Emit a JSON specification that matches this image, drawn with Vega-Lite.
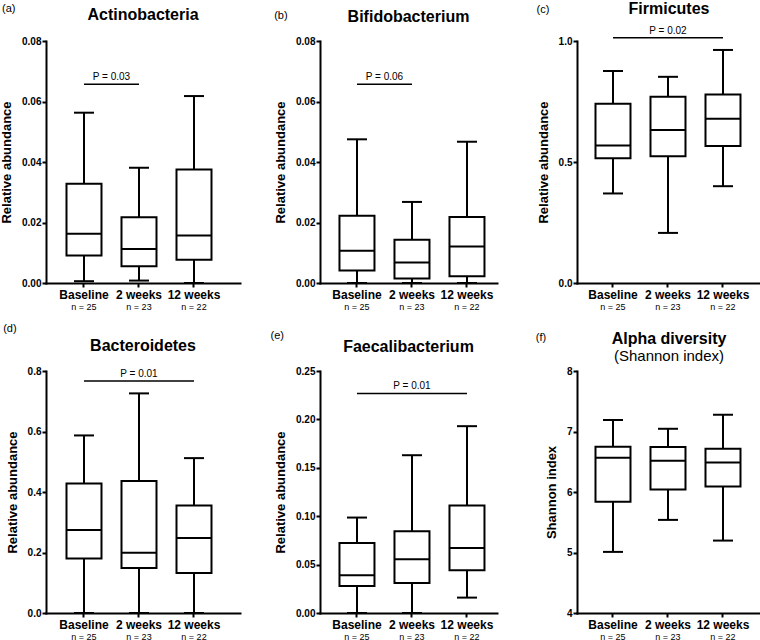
{
  "$schema": "https://vega.github.io/schema/vega-lite/v6.json",
  "background": "white",
  "padding": {"left": 0, "top": 0, "right": 0, "bottom": 0},
  "datasets": {
    "boxes": [
      {"panel": "a", "group": "Baseline", "min": 0.0006, "q1": 0.0091, "median": 0.0163, "q3": 0.0328, "max": 0.0563, "n": 25},
      {"panel": "a", "group": "2 weeks", "min": 0.0008, "q1": 0.0055, "median": 0.0112, "q3": 0.0217, "max": 0.0381, "n": 23},
      {"panel": "a", "group": "12 weeks", "min": 0, "q1": 0.0077, "median": 0.0157, "q3": 0.0375, "max": 0.0618, "n": 22},
      {"panel": "b", "group": "Baseline", "min": 0, "q1": 0.0041, "median": 0.0107, "q3": 0.0222, "max": 0.0475, "n": 25},
      {"panel": "b", "group": "2 weeks", "min": 0, "q1": 0.0015, "median": 0.0068, "q3": 0.0143, "max": 0.0268, "n": 23},
      {"panel": "b", "group": "12 weeks", "min": 0, "q1": 0.0022, "median": 0.0121, "q3": 0.0218, "max": 0.0467, "n": 22},
      {"panel": "c", "group": "Baseline", "min": 0.37, "q1": 0.515, "median": 0.568, "q3": 0.741, "max": 0.876, "n": 25},
      {"panel": "c", "group": "2 weeks", "min": 0.207, "q1": 0.524, "median": 0.632, "q3": 0.77, "max": 0.852, "n": 23},
      {"panel": "c", "group": "12 weeks", "min": 0.4, "q1": 0.566, "median": 0.679, "q3": 0.779, "max": 0.963, "n": 22},
      {"panel": "d", "group": "Baseline", "min": 0, "q1": 0.18, "median": 0.274, "q3": 0.428, "max": 0.587, "n": 25},
      {"panel": "d", "group": "2 weeks", "min": 0, "q1": 0.149, "median": 0.199, "q3": 0.436, "max": 0.726, "n": 23},
      {"panel": "d", "group": "12 weeks", "min": 0, "q1": 0.132, "median": 0.248, "q3": 0.355, "max": 0.512, "n": 22},
      {"panel": "e", "group": "Baseline", "min": 0, "q1": 0.028, "median": 0.039, "q3": 0.0724, "max": 0.0986, "n": 25},
      {"panel": "e", "group": "2 weeks", "min": 0, "q1": 0.031, "median": 0.0555, "q3": 0.0845, "max": 0.163, "n": 23},
      {"panel": "e", "group": "12 weeks", "min": 0.0159, "q1": 0.0441, "median": 0.0672, "q3": 0.111, "max": 0.193, "n": 22},
      {"panel": "f", "group": "Baseline", "min": 5.01, "q1": 5.837, "median": 6.566, "q3": 6.75, "max": 7.19, "n": 25},
      {"panel": "f", "group": "2 weeks", "min": 5.539, "q1": 6.041, "median": 6.516, "q3": 6.742, "max": 7.045, "n": 23},
      {"panel": "f", "group": "12 weeks", "min": 5.197, "q1": 6.091, "median": 6.488, "q3": 6.715, "max": 7.277, "n": 22}
    ],
    "pvals": [
      {"panel": "a", "g1": "Baseline", "g2": "2 weeks", "mid": "Baseline", "y": 0.0657, "label": "P = 0.03"},
      {"panel": "b", "g1": "Baseline", "g2": "2 weeks", "mid": "Baseline", "y": 0.0657, "label": "P = 0.06"},
      {"panel": "c", "g1": "Baseline", "g2": "12 weeks", "mid": "2 weeks", "y": 1.0137, "label": "P = 0.02"},
      {"panel": "d", "g1": "Baseline", "g2": "12 weeks", "mid": "2 weeks", "y": 0.767, "label": "P = 0.01"},
      {"panel": "e", "g1": "Baseline", "g2": "12 weeks", "mid": "2 weeks", "y": 0.2268, "label": "P = 0.01"}
    ]
  },
  "columns": 3,
  "bounds": "flush",
  "spacing": {"row": 88, "column": 80},
  "concat": [
    {
      "width": 194, "height": 242,
      "title": {"text": "Actinobacteria", "offset": -21},
      "resolve": {"axis": {"x": "independent", "y": "independent"}},
      "layer": [
        {"data": {"name": "boxes"}, "transform": [{"filter": "datum.panel == 'a'"}],
         "mark": {"type": "rule", "strokeWidth": 2, "color": "black"},
         "encoding": {
           "x": {"field": "group", "type": "nominal", "scale": {"domain": ["Baseline", "2 weeks", "12 weeks"], "paddingInner": 0, "paddingOuter": 0.2636, "align": 0.362}, "axis": {"title": null, "orient": "bottom"}},
           "y": {"field": "min", "type": "quantitative", "scale": {"domain": [0, 0.08], "nice": false}, "axis": {"title": "Relative abundance", "values": [0, 0.02, 0.04, 0.06, 0.08], "format": ".2f", "orient": "left"}},
           "y2": {"field": "max"}
         }},
        {"data": {"name": "boxes"}, "transform": [{"filter": "datum.panel == 'a'"}],
         "mark": {"type": "bar", "width": 35, "fill": "white", "stroke": "black", "strokeWidth": 2},
         "encoding": {
           "x": {"field": "group", "type": "nominal", "axis": null},
           "y": {"field": "q1", "type": "quantitative", "axis": {"orient": "left", "title": "(a)", "domain": false, "ticks": false, "labels": false, "grid": false, "titleAngle": 0, "titleX": -44.5, "titleY": -33, "titleAlign": "left", "titleBaseline": "middle", "titleFontWeight": "normal", "titleFontSize": 11}},
           "y2": {"field": "q3"}
         }},
        {"data": {"name": "boxes"}, "transform": [{"filter": "datum.panel == 'a'"}],
         "mark": {"type": "tick", "size": 36, "thickness": 2, "color": "black", "opacity": 1},
         "encoding": {"x": {"field": "group", "type": "nominal", "axis": null}, "y": {"field": "median", "type": "quantitative", "axis": null}}},
        {"data": {"name": "boxes"}, "transform": [{"filter": "datum.panel == 'a'"}],
         "mark": {"type": "tick", "size": 20, "thickness": 2, "color": "black", "opacity": 1},
         "encoding": {"x": {"field": "group", "type": "nominal", "axis": null}, "y": {"field": "min", "type": "quantitative", "axis": null}}},
        {"data": {"name": "boxes"}, "transform": [{"filter": "datum.panel == 'a'"}],
         "mark": {"type": "tick", "size": 20, "thickness": 2, "color": "black", "opacity": 1},
         "encoding": {"x": {"field": "group", "type": "nominal", "axis": {"orient": "bottom", "title": null, "domain": false, "ticks": false, "tickSize": 0, "labelPadding": 19, "labelFontSize": 9, "labelFontWeight": "normal", "labelExpr": "datum.label == 'Baseline' ? 'n = 25' : datum.label == '2 weeks' ? 'n = 23' : 'n = 22'"}}, "y": {"field": "max", "type": "quantitative", "axis": null}}},
        {"data": {"name": "pvals"}, "transform": [{"filter": "datum.panel == 'a'"}],
         "mark": {"type": "rule", "strokeWidth": 1.5, "color": "black"},
         "encoding": {"x": {"field": "g1", "type": "nominal", "axis": null}, "x2": {"field": "g2"}, "y": {"field": "y", "type": "quantitative", "axis": null}}},
        {"data": {"name": "pvals"}, "transform": [{"filter": "datum.panel == 'a'"}],
         "mark": {"type": "text", "fontSize": 10, "baseline": "alphabetic", "dy": -4, "color": "black"},
         "encoding": {"x": {"field": "mid", "type": "nominal", "bandPosition": 1, "axis": null}, "y": {"field": "y", "type": "quantitative", "axis": null}, "text": {"field": "label"}}}
      ]
    },
    {
      "width": 177, "height": 242,
      "title": {"text": "Bifidobacterium", "offset": -15.6},
      "resolve": {"axis": {"x": "independent", "y": "independent"}},
      "layer": [
        {"data": {"name": "boxes"}, "transform": [{"filter": "datum.panel == 'b'"}],
         "mark": {"type": "rule", "strokeWidth": 2, "color": "black"},
         "encoding": {
           "x": {"field": "group", "type": "nominal", "scale": {"domain": ["Baseline", "2 weeks", "12 weeks"], "paddingInner": 0, "paddingOuter": 0.109, "align": 0.79}, "axis": {"title": null, "orient": "bottom"}},
           "y": {"field": "min", "type": "quantitative", "scale": {"domain": [0, 0.08], "nice": false}, "axis": {"title": "Relative abundance", "values": [0, 0.02, 0.04, 0.06, 0.08], "format": ".2f", "orient": "left"}},
           "y2": {"field": "max"}
         }},
        {"data": {"name": "boxes"}, "transform": [{"filter": "datum.panel == 'b'"}],
         "mark": {"type": "bar", "width": 35, "fill": "white", "stroke": "black", "strokeWidth": 2},
         "encoding": {
           "x": {"field": "group", "type": "nominal", "axis": null},
           "y": {"field": "q1", "type": "quantitative", "axis": {"orient": "left", "title": "(b)", "domain": false, "ticks": false, "labels": false, "grid": false, "titleAngle": 0, "titleX": -46.3, "titleY": -26, "titleAlign": "left", "titleBaseline": "middle", "titleFontWeight": "normal", "titleFontSize": 11}},
           "y2": {"field": "q3"}
         }},
        {"data": {"name": "boxes"}, "transform": [{"filter": "datum.panel == 'b'"}],
         "mark": {"type": "tick", "size": 36, "thickness": 2, "color": "black", "opacity": 1},
         "encoding": {"x": {"field": "group", "type": "nominal", "axis": null}, "y": {"field": "median", "type": "quantitative", "axis": null}}},
        {"data": {"name": "boxes"}, "transform": [{"filter": "datum.panel == 'b'"}],
         "mark": {"type": "tick", "size": 20, "thickness": 2, "color": "black", "opacity": 1},
         "encoding": {"x": {"field": "group", "type": "nominal", "axis": null}, "y": {"field": "min", "type": "quantitative", "axis": null}}},
        {"data": {"name": "boxes"}, "transform": [{"filter": "datum.panel == 'b'"}],
         "mark": {"type": "tick", "size": 20, "thickness": 2, "color": "black", "opacity": 1},
         "encoding": {"x": {"field": "group", "type": "nominal", "axis": {"orient": "bottom", "title": null, "domain": false, "ticks": false, "tickSize": 0, "labelPadding": 19, "labelFontSize": 9, "labelFontWeight": "normal", "labelExpr": "datum.label == 'Baseline' ? 'n = 25' : datum.label == '2 weeks' ? 'n = 23' : 'n = 22'"}}, "y": {"field": "max", "type": "quantitative", "axis": null}}},
        {"data": {"name": "pvals"}, "transform": [{"filter": "datum.panel == 'b'"}],
         "mark": {"type": "rule", "strokeWidth": 1.5, "color": "black"},
         "encoding": {"x": {"field": "g1", "type": "nominal", "axis": null}, "x2": {"field": "g2"}, "y": {"field": "y", "type": "quantitative", "axis": null}}},
        {"data": {"name": "pvals"}, "transform": [{"filter": "datum.panel == 'b'"}],
         "mark": {"type": "text", "fontSize": 10, "baseline": "alphabetic", "dy": -4, "color": "black"},
         "encoding": {"x": {"field": "mid", "type": "nominal", "bandPosition": 1, "axis": null}, "y": {"field": "y", "type": "quantitative", "axis": null}, "text": {"field": "label"}}}
      ]
    },
    {
      "width": 184, "height": 242,
      "title": {"text": "Firmicutes", "offset": -13.4},
      "resolve": {"axis": {"x": "independent", "y": "independent"}},
      "layer": [
        {"data": {"name": "boxes"}, "transform": [{"filter": "datum.panel == 'c'"}],
         "mark": {"type": "rule", "strokeWidth": 2, "color": "black"},
         "encoding": {
           "x": {"field": "group", "type": "nominal", "scale": {"domain": ["Baseline", "2 weeks", "12 weeks"], "paddingInner": 0, "paddingOuter": 0.1727, "align": 0.447}, "axis": {"title": null, "orient": "bottom"}},
           "y": {"field": "min", "type": "quantitative", "scale": {"domain": [0, 1], "nice": false}, "axis": {"title": "Relative abundance", "values": [0, 0.5, 1], "format": ".1f", "orient": "left"}},
           "y2": {"field": "max"}
         }},
        {"data": {"name": "boxes"}, "transform": [{"filter": "datum.panel == 'c'"}],
         "mark": {"type": "bar", "width": 35, "fill": "white", "stroke": "black", "strokeWidth": 2},
         "encoding": {
           "x": {"field": "group", "type": "nominal", "axis": null},
           "y": {"field": "q1", "type": "quantitative", "axis": {"orient": "left", "title": "(c)", "domain": false, "ticks": false, "labels": false, "grid": false, "titleAngle": 0, "titleX": -41, "titleY": -31.8, "titleAlign": "left", "titleBaseline": "middle", "titleFontWeight": "normal", "titleFontSize": 11}},
           "y2": {"field": "q3"}
         }},
        {"data": {"name": "boxes"}, "transform": [{"filter": "datum.panel == 'c'"}],
         "mark": {"type": "tick", "size": 36, "thickness": 2, "color": "black", "opacity": 1},
         "encoding": {"x": {"field": "group", "type": "nominal", "axis": null}, "y": {"field": "median", "type": "quantitative", "axis": null}}},
        {"data": {"name": "boxes"}, "transform": [{"filter": "datum.panel == 'c'"}],
         "mark": {"type": "tick", "size": 20, "thickness": 2, "color": "black", "opacity": 1},
         "encoding": {"x": {"field": "group", "type": "nominal", "axis": null}, "y": {"field": "min", "type": "quantitative", "axis": null}}},
        {"data": {"name": "boxes"}, "transform": [{"filter": "datum.panel == 'c'"}],
         "mark": {"type": "tick", "size": 20, "thickness": 2, "color": "black", "opacity": 1},
         "encoding": {"x": {"field": "group", "type": "nominal", "axis": {"orient": "bottom", "title": null, "domain": false, "ticks": false, "tickSize": 0, "labelPadding": 19, "labelFontSize": 9, "labelFontWeight": "normal", "labelExpr": "datum.label == 'Baseline' ? 'n = 25' : datum.label == '2 weeks' ? 'n = 23' : 'n = 22'"}}, "y": {"field": "max", "type": "quantitative", "axis": null}}},
        {"data": {"name": "pvals"}, "transform": [{"filter": "datum.panel == 'c'"}],
         "mark": {"type": "rule", "strokeWidth": 1.5, "color": "black"},
         "encoding": {"x": {"field": "g1", "type": "nominal", "axis": null}, "x2": {"field": "g2"}, "y": {"field": "y", "type": "quantitative", "axis": null}}},
        {"data": {"name": "pvals"}, "transform": [{"filter": "datum.panel == 'c'"}],
         "mark": {"type": "text", "fontSize": 10, "baseline": "alphabetic", "dy": -4, "color": "black"},
         "encoding": {"x": {"field": "mid", "type": "nominal", "axis": null}, "y": {"field": "y", "type": "quantitative", "axis": null}, "text": {"field": "label"}}}
      ]
    },
    {
      "width": 194, "height": 242,
      "title": {"text": "Bacteroidetes", "offset": -31.4},
      "resolve": {"axis": {"x": "independent", "y": "independent"}},
      "layer": [
        {"data": {"name": "boxes"}, "transform": [{"filter": "datum.panel == 'd'"}],
         "mark": {"type": "rule", "strokeWidth": 2, "color": "black"},
         "encoding": {
           "x": {"field": "group", "type": "nominal", "scale": {"domain": ["Baseline", "2 weeks", "12 weeks"], "paddingInner": 0, "paddingOuter": 0.2636, "align": 0.362}, "axis": {"title": null, "orient": "bottom"}},
           "y": {"field": "min", "type": "quantitative", "scale": {"domain": [0, 0.8], "nice": false}, "axis": {"title": "Relative abundance", "values": [0, 0.2, 0.4, 0.6, 0.8], "format": ".1f", "orient": "left"}},
           "y2": {"field": "max"}
         }},
        {"data": {"name": "boxes"}, "transform": [{"filter": "datum.panel == 'd'"}],
         "mark": {"type": "bar", "width": 35, "fill": "white", "stroke": "black", "strokeWidth": 2},
         "encoding": {
           "x": {"field": "group", "type": "nominal", "axis": null},
           "y": {"field": "q1", "type": "quantitative", "axis": {"orient": "left", "title": "(d)", "domain": false, "ticks": false, "labels": false, "grid": false, "titleAngle": 0, "titleX": -43.3, "titleY": -42.5, "titleAlign": "left", "titleBaseline": "middle", "titleFontWeight": "normal", "titleFontSize": 11}},
           "y2": {"field": "q3"}
         }},
        {"data": {"name": "boxes"}, "transform": [{"filter": "datum.panel == 'd'"}],
         "mark": {"type": "tick", "size": 36, "thickness": 2, "color": "black", "opacity": 1},
         "encoding": {"x": {"field": "group", "type": "nominal", "axis": null}, "y": {"field": "median", "type": "quantitative", "axis": null}}},
        {"data": {"name": "boxes"}, "transform": [{"filter": "datum.panel == 'd'"}],
         "mark": {"type": "tick", "size": 20, "thickness": 2, "color": "black", "opacity": 1},
         "encoding": {"x": {"field": "group", "type": "nominal", "axis": null}, "y": {"field": "min", "type": "quantitative", "axis": null}}},
        {"data": {"name": "boxes"}, "transform": [{"filter": "datum.panel == 'd'"}],
         "mark": {"type": "tick", "size": 20, "thickness": 2, "color": "black", "opacity": 1},
         "encoding": {"x": {"field": "group", "type": "nominal", "axis": {"orient": "bottom", "title": null, "domain": false, "ticks": false, "tickSize": 0, "labelPadding": 19, "labelFontSize": 9, "labelFontWeight": "normal", "labelExpr": "datum.label == 'Baseline' ? 'n = 25' : datum.label == '2 weeks' ? 'n = 23' : 'n = 22'"}}, "y": {"field": "max", "type": "quantitative", "axis": null}}},
        {"data": {"name": "pvals"}, "transform": [{"filter": "datum.panel == 'd'"}],
         "mark": {"type": "rule", "strokeWidth": 1.5, "color": "black"},
         "encoding": {"x": {"field": "g1", "type": "nominal", "axis": null}, "x2": {"field": "g2"}, "y": {"field": "y", "type": "quantitative", "axis": null}}},
        {"data": {"name": "pvals"}, "transform": [{"filter": "datum.panel == 'd'"}],
         "mark": {"type": "text", "fontSize": 10, "baseline": "alphabetic", "dy": -4, "color": "black"},
         "encoding": {"x": {"field": "mid", "type": "nominal", "axis": null}, "y": {"field": "y", "type": "quantitative", "axis": null}, "text": {"field": "label"}}}
      ]
    },
    {
      "width": 177, "height": 242,
      "title": {"text": "Faecalibacterium", "offset": -25.6},
      "resolve": {"axis": {"x": "independent", "y": "independent"}},
      "layer": [
        {"data": {"name": "boxes"}, "transform": [{"filter": "datum.panel == 'e'"}],
         "mark": {"type": "rule", "strokeWidth": 2, "color": "black"},
         "encoding": {
           "x": {"field": "group", "type": "nominal", "scale": {"domain": ["Baseline", "2 weeks", "12 weeks"], "paddingInner": 0, "paddingOuter": 0.109, "align": 0.79}, "axis": {"title": null, "orient": "bottom"}},
           "y": {"field": "min", "type": "quantitative", "scale": {"domain": [0, 0.25], "nice": false}, "axis": {"title": "Relative abundance", "values": [0, 0.05, 0.1, 0.15, 0.2, 0.25], "format": ".2f", "orient": "left"}},
           "y2": {"field": "max"}
         }},
        {"data": {"name": "boxes"}, "transform": [{"filter": "datum.panel == 'e'"}],
         "mark": {"type": "bar", "width": 35, "fill": "white", "stroke": "black", "strokeWidth": 2},
         "encoding": {
           "x": {"field": "group", "type": "nominal", "axis": null},
           "y": {"field": "q1", "type": "quantitative", "axis": {"orient": "left", "title": "(e)", "domain": false, "ticks": false, "labels": false, "grid": false, "titleAngle": 0, "titleX": -50, "titleY": -36, "titleAlign": "left", "titleBaseline": "middle", "titleFontWeight": "normal", "titleFontSize": 11}},
           "y2": {"field": "q3"}
         }},
        {"data": {"name": "boxes"}, "transform": [{"filter": "datum.panel == 'e'"}],
         "mark": {"type": "tick", "size": 36, "thickness": 2, "color": "black", "opacity": 1},
         "encoding": {"x": {"field": "group", "type": "nominal", "axis": null}, "y": {"field": "median", "type": "quantitative", "axis": null}}},
        {"data": {"name": "boxes"}, "transform": [{"filter": "datum.panel == 'e'"}],
         "mark": {"type": "tick", "size": 20, "thickness": 2, "color": "black", "opacity": 1},
         "encoding": {"x": {"field": "group", "type": "nominal", "axis": null}, "y": {"field": "min", "type": "quantitative", "axis": null}}},
        {"data": {"name": "boxes"}, "transform": [{"filter": "datum.panel == 'e'"}],
         "mark": {"type": "tick", "size": 20, "thickness": 2, "color": "black", "opacity": 1},
         "encoding": {"x": {"field": "group", "type": "nominal", "axis": {"orient": "bottom", "title": null, "domain": false, "ticks": false, "tickSize": 0, "labelPadding": 19, "labelFontSize": 9, "labelFontWeight": "normal", "labelExpr": "datum.label == 'Baseline' ? 'n = 25' : datum.label == '2 weeks' ? 'n = 23' : 'n = 22'"}}, "y": {"field": "max", "type": "quantitative", "axis": null}}},
        {"data": {"name": "pvals"}, "transform": [{"filter": "datum.panel == 'e'"}],
         "mark": {"type": "rule", "strokeWidth": 1.5, "color": "black"},
         "encoding": {"x": {"field": "g1", "type": "nominal", "axis": null}, "x2": {"field": "g2"}, "y": {"field": "y", "type": "quantitative", "axis": null}}},
        {"data": {"name": "pvals"}, "transform": [{"filter": "datum.panel == 'e'"}],
         "mark": {"type": "text", "fontSize": 10, "baseline": "alphabetic", "dy": -4, "color": "black"},
         "encoding": {"x": {"field": "mid", "type": "nominal", "axis": null}, "y": {"field": "y", "type": "quantitative", "axis": null}, "text": {"field": "label"}}}
      ]
    },
    {
      "width": 184, "height": 242,
      "title": {"text": "Alpha diversity", "subtitle": "(Shannon index)", "offset": -32.6},
      "resolve": {"axis": {"x": "independent", "y": "independent"}},
      "layer": [
        {"data": {"name": "boxes"}, "transform": [{"filter": "datum.panel == 'f'"}],
         "mark": {"type": "rule", "strokeWidth": 2, "color": "black"},
         "encoding": {
           "x": {"field": "group", "type": "nominal", "scale": {"domain": ["Baseline", "2 weeks", "12 weeks"], "paddingInner": 0, "paddingOuter": 0.1727, "align": 0.447}, "axis": {"title": null, "orient": "bottom"}},
           "y": {"field": "min", "type": "quantitative", "scale": {"domain": [4, 8], "nice": false, "zero": false}, "axis": {"title": "Shannon index", "values": [4, 5, 6, 7, 8], "format": "d", "orient": "left"}},
           "y2": {"field": "max"}
         }},
        {"data": {"name": "boxes"}, "transform": [{"filter": "datum.panel == 'f'"}],
         "mark": {"type": "bar", "width": 35, "fill": "white", "stroke": "black", "strokeWidth": 2},
         "encoding": {
           "x": {"field": "group", "type": "nominal", "axis": null},
           "y": {"field": "q1", "type": "quantitative", "axis": {"orient": "left", "title": "(f)", "domain": false, "ticks": false, "labels": false, "grid": false, "titleAngle": 0, "titleX": -41.7, "titleY": -34, "titleAlign": "left", "titleBaseline": "middle", "titleFontWeight": "normal", "titleFontSize": 11}},
           "y2": {"field": "q3"}
         }},
        {"data": {"name": "boxes"}, "transform": [{"filter": "datum.panel == 'f'"}],
         "mark": {"type": "tick", "size": 36, "thickness": 2, "color": "black", "opacity": 1},
         "encoding": {"x": {"field": "group", "type": "nominal", "axis": null}, "y": {"field": "median", "type": "quantitative", "axis": null}}},
        {"data": {"name": "boxes"}, "transform": [{"filter": "datum.panel == 'f'"}],
         "mark": {"type": "tick", "size": 20, "thickness": 2, "color": "black", "opacity": 1},
         "encoding": {"x": {"field": "group", "type": "nominal", "axis": null}, "y": {"field": "min", "type": "quantitative", "axis": null}}},
        {"data": {"name": "boxes"}, "transform": [{"filter": "datum.panel == 'f'"}],
         "mark": {"type": "tick", "size": 20, "thickness": 2, "color": "black", "opacity": 1},
         "encoding": {"x": {"field": "group", "type": "nominal", "axis": {"orient": "bottom", "title": null, "domain": false, "ticks": false, "tickSize": 0, "labelPadding": 19, "labelFontSize": 9, "labelFontWeight": "normal", "labelExpr": "datum.label == 'Baseline' ? 'n = 25' : datum.label == '2 weeks' ? 'n = 23' : 'n = 22'"}}, "y": {"field": "max", "type": "quantitative", "axis": null}}}
      ]
    }
  ],
  "config": {
    "font": "Liberation Sans",
    "view": {"stroke": null},
    "axis": {"domainColor": "black", "domainWidth": 2, "domainCap": "square", "tickColor": "black", "tickWidth": 2, "tickSize": 4, "labelColor": "black", "labelFontWeight": "bold", "labelFontSize": 10, "titleColor": "black", "titleFontWeight": "bold", "titleFontSize": 13, "grid": false},
    "axisY": {"labelPadding": 1, "titlePadding": 8},
    "axisX": {"labelPadding": 2, "labelFontSize": 12, "labelAngle": 0, "labelOverlap": false, "labelFlush": false},
    "title": {"fontSize": 16, "fontWeight": "bold", "color": "black", "anchor": "middle", "frame": "group", "subtitleFontSize": 15, "subtitleColor": "black", "subtitlePadding": 2},
    "text": {"color": "black"}
  }
}
